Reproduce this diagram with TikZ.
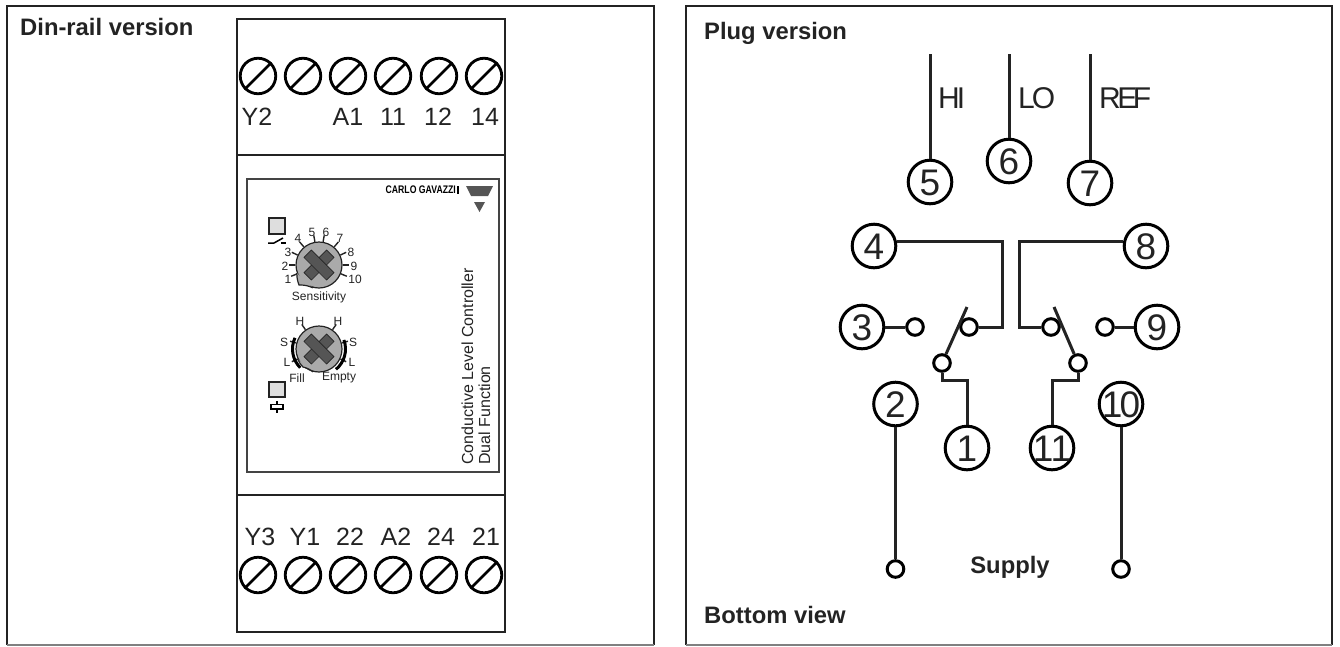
\documentclass[tikz,border=0pt]{standalone}
\usepackage{fontspec}
\setmainfont{Liberation Sans}
\usetikzlibrary{calc}
\definecolor{inkdark}{RGB}{35,35,35}
\definecolor{knobgray}{RGB}{170,170,170}
\definecolor{crossgray}{RGB}{85,85,85}
\definecolor{ledgray}{RGB}{222,222,222}
\newcommand{\fpx}[1]{\fontsize{#1}{#1}\selectfont}

\begin{document}
\begin{tikzpicture}[
    x=1pt, y=-1pt,
    line join=miter,
    frameline/.style={draw=inkdark, line width=2.6pt},
    housing/.style={draw=inkdark, line width=2.7pt},
    wire/.style={draw=inkdark, line width=3pt},
    screw/.style={circle, draw=black, line width=2.8pt, minimum size=35.5pt, inner sep=0pt},
    pin/.style={circle, draw=black, line width=3pt, minimum size=43.6pt, inner sep=0pt, text=inkdark, font=\fpx{37}},
    contact/.style={circle, draw=black, line width=3pt, minimum size=16.6pt, inner sep=0pt, fill=white},
    termlabel/.style={anchor=base, text=inkdark, inner sep=0pt, font=\fpx{25}},
    title/.style={anchor=base west, text=inkdark, inner sep=0pt, font=\fpx{23.8}\bfseries},
    probelabel/.style={anchor=base west, text=inkdark, inner sep=0pt, font=\fpx{30}},
    small/.style={anchor=center, text=inkdark, inner sep=0pt, font=\fpx{12}},
    knob/.style={circle, draw=inkdark, fill=knobgray, line width=1.2pt, minimum size=46pt, inner sep=0pt},
    knobtail/.style={draw=inkdark, fill=knobgray, line width=1.2pt},
    crossarm/.style={draw=inkdark, fill=crossgray, line width=.6pt, minimum width=32pt, minimum height=10.5pt, inner sep=0pt},
    knobtick/.style={draw=inkdark, line width=1.4pt},
    led/.style={draw=inkdark, fill=ledgray, line width=1.2pt}
]
    \useasboundingbox (0,0) rectangle (1340,646);

    \draw[frameline] (7,645) -- (7,6) -- (654,6) -- (654,645);
    \draw[draw=gray, line width=1.4pt] (7,645) -- (654,645);
    \draw[frameline] (686,645) -- (686,6) -- (1332,6) -- (1332,645);
    \draw[draw=gray, line width=1.4pt] (686,645) -- (1332,645);

    \node[title] (dinTitle) at (20,35) {Din-rail version};
    \node[title] (plugTitle) at (704,39) {Plug version};
    \node[title] (viewTitle) at (704,623) {Bottom view};
    \node[title, anchor=base] (supplyText) at (1010,573) {Supply};

    % din-rail housing
    \draw[housing] (237,19) rectangle (505,632);
    \draw[housing] (237,155) -- (505,155);
    \draw[housing] (237,495) -- (505,495);

    \foreach \i/\sx in {1/258,2/303,3/348,4/393,5/439,6/484} {
        \node[screw] (top\i) at (\sx,76) {};
        \draw[line width=2.6pt] (top\i.225) -- (top\i.45);
        \node[screw] (bot\i) at (\sx,575) {};
        \draw[line width=2.6pt] (bot\i.225) -- (bot\i.45);
    }
    \foreach \i/\sx/\t in {1/257/Y2,3/348/A1,4/393/11,5/438/12,6/485/14}
        \node[termlabel] (toplbl\i) at (\sx,125) {\t};
    \foreach \i/\sx/\t in {1/260/Y3,2/305/Y1,3/350/22,4/396/A2,5/441/24,6/486/21}
        \node[termlabel] (botlbl\i) at (\sx,545) {\t};

    % front plate
    \draw[draw=inkdark!85, line width=1.3pt] (247,179) rectangle (499,472);
    \node[anchor=base east, inner sep=0pt, font=\fpx{11}\bfseries] (brand) at (456,193) {\scalebox{.79}[1]{CARLO GAVAZZI}};
    \fill[black] (456.5,186) rectangle (458.5,194);
    \fill[crossgray] (466,186) -- (493,186) -- (488,196) -- (471,196) -- cycle;
    \fill[crossgray] (474,202) -- (485,202) -- (479.5,212) -- cycle;

    \node[anchor=base west, rotate=90, inner sep=0pt, text=inkdark, font=\fpx{16}] (nameA) at (473,465) {Conductive Level Controller};
    \node[anchor=base west, rotate=90, inner sep=0pt, text=inkdark, font=\fpx{16}] (nameB) at (490,465) {Dual Function};

    % sensitivity knob
    \draw[led] (269,218) rectangle (285,234);
    \draw[line width=1.5pt] (268,243) -- (274,243) -- (283,238);
    \draw[line width=1.5pt] (281,243) -- (286,243);

    \node[knob] (knobA) at (319,265) {};
    \foreach \a in {202,180,155,130,100,80,50,25,0,-22}
        \draw[knobtick] (knobA.\a) -- ($(knobA)+(\a:30pt)$);
    \draw[knobtail] (knobA.200) to[bend right=10] (299,285) to[bend left=12] (knobA.255);
    \node[crossarm, rotate=45] (crossA1) at (knobA) {};
    \node[crossarm, rotate=-45] (crossA2) at (knobA) {};
    \fill[crossgray] ($(knobA)+(-4.5,0)$) -- ($(knobA)+(0,-4.5)$) -- ($(knobA)+(4.5,0)$) -- ($(knobA)+(0,4.5)$) -- cycle;
    \foreach \t/\sx/\sy in {1/288/279,2/285/266,3/288/252,4/298/238,5/312/232,6/326/232,7/340/238,8/351/252,9/354/266,10/355/279}
        \node[small] (sens\t) at (\sx,\sy) {\t};
    \node[small] (sensText) at (319,297) {Sensitivity};

    % function knob
    \node[knob] (knobB) at (319,349) {};
    \foreach \a in {125,55,165,15,205,-25}
        \draw[knobtick] (knobB.\a) -- ($(knobB)+(\a:30pt)$);
    \draw[knobtail] (knobB.205) to[bend right=10] (303,367) to[bend left=12] (knobB.255);
    \draw[line width=3pt, black] ($(knobB)+(155:26.5pt)$) arc[start angle=155, end angle=225, radius=26.5pt];
    \draw[line width=3pt, black] ($(knobB)+(20:26.5pt)$) arc[start angle=20, end angle=-50, radius=26.5pt];
    \node[crossarm, rotate=45] (crossB1) at (knobB) {};
    \node[crossarm, rotate=-45] (crossB2) at (knobB) {};
    \fill[crossgray] ($(knobB)+(-4.5,0)$) -- ($(knobB)+(0,-4.5)$) -- ($(knobB)+(4.5,0)$) -- ($(knobB)+(0,4.5)$) -- cycle;
    \foreach \n/\t/\sx/\sy in {a/H/300/321,b/H/338/321,c/S/284/342,d/S/353/342,e/L/287/362,f/L/352/362,g/Fill/297/378,h/Empty/339/378}
        \node[small] (func\n) at (\sx,\sy) {\t};

    \draw[led] (269,382) rectangle (285,397);
    \draw[line width=1.6pt] (271,404.5) rectangle (283,409);
    \draw[line width=1.6pt] (277,401) -- (277,404.5);
    \draw[line width=1.6pt] (277,409) -- (277,412.5);

    % plug version
    \foreach \n/\sx/\sy in {5/930/182,6/1009/161,7/1090/183,4/874/246,8/1146/246,3/862/327,9/1157/327,2/895.5/404,10/1121/404,1/967/448,11/1052/448}
        \node[pin] (pin\n) at (\sx,\sy) {};
    \foreach \n/\sx/\sy in {5/930/182,6/1009/161,7/1090/183,4/874/246,8/1146/246,3/862/327,9/1157/327,2/895.5/404,1/967/448}
        \node[anchor=base, inner sep=0pt, text=inkdark, font=\fpx{37}] (num\n) at (\sx,\sy+13) {\n};
    \node[anchor=base, inner sep=0pt, text=inkdark, font=\fpx{37}] (num10) at (1121,417) {1\kern-3pt 0};
    \node[anchor=base, inner sep=0pt, text=inkdark, font=\fpx{37}] (num11) at (1052,461) {1\kern-3pt 1};

    \node[contact] (ctcA) at (915,327) {};
    \node[contact] (ctcB) at (969,327) {};
    \node[contact] (ctcC) at (942,363) {};
    \node[contact] (ctcD) at (1051,327) {};
    \node[contact] (ctcE) at (1105,327) {};
    \node[contact] (ctcF) at (1078,363) {};
    \node[contact] (ctcG) at (895.5,569) {};
    \node[contact] (ctcH) at (1121,569) {};

    \coordinate (probeHI) at (930,54);
    \coordinate (probeLO) at (1009,54);
    \coordinate (probeREF) at (1090,54);
    \coordinate (turnL) at (1002,327);
    \coordinate (turnR) at (1019,327);
    \coordinate (bladeL) at (967,307);
    \coordinate (bladeR) at (1054,307);
    \coordinate (kneeL) at (967,380);
    \coordinate (kneeR) at (1052,380);

    \draw[wire] (probeHI) -- (pin5);
    \draw[wire] (probeLO) -- (pin6);
    \draw[wire] (probeREF) -- (pin7);
    \draw[wire] (pin4.10) -| (turnL) -- (ctcB.east);
    \draw[wire] (pin8.170) -| (turnR) -- (ctcD.west);
    \draw[wire] (pin3) -- (ctcA);
    \draw[wire] (pin9) -- (ctcE);
    \draw[wire] (ctcC) -- (bladeL);
    \draw[wire] (ctcF) -- (bladeR);
    \draw[wire] (ctcC.south) |- (kneeL) -- (pin1.north);
    \draw[wire] (ctcF.south) |- (kneeR) -- (pin11.north);
    \draw[wire] (pin2) -- (ctcG);
    \draw[wire] (pin10) -- (ctcH);

    \node[probelabel] (lblHI) at (938,108) {H\kern-3pt I};
    \node[probelabel] (lblLO) at (1018,108) {L\kern-3pt O};
    \node[probelabel] (lblREF) at (1099,108) {R\kern-3.5pt E\kern-4.5pt F};
\end{tikzpicture}
\end{document}
